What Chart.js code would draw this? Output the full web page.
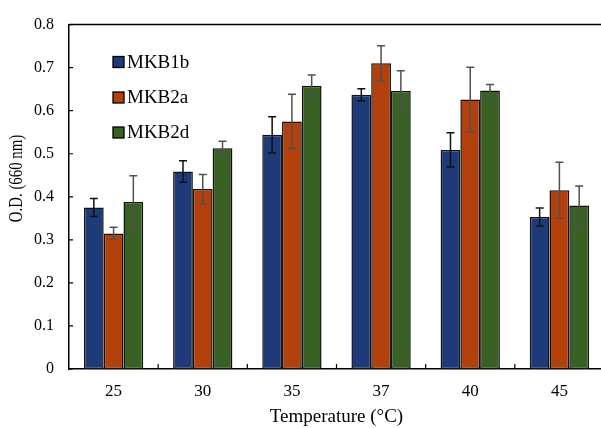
<!DOCTYPE html>
<html>
<head>
<meta charset="utf-8">
<script src="https://cdn.jsdelivr.net/npm/chart.js@4.4.1/dist/chart.umd.min.js"></script>
<style>
html,body{margin:0;padding:0;overflow:hidden;background:#fff;}
canvas{display:block;}
</style>
</head>
<body>
<canvas id="c" width="605" height="428"></canvas>
<script>
const categories = ['25', '30', '35', '37', '40', '45'];
const seriesNames = ['MKB1b', 'MKB2a', 'MKB2d'];
const mkb1b = [0.375, 0.459, 0.544, 0.637, 0.509, 0.353];
const mkb2a = [0.315, 0.418, 0.575, 0.710, 0.626, 0.415];
const mkb2d = [0.388, 0.513, 0.658, 0.646, 0.647, 0.380];
const mkb1bErr = [0.021, 0.025, 0.042, 0.014, 0.040, 0.021];
const mkb2aErr = [0.014, 0.034, 0.063, 0.041, 0.075, 0.065];
const mkb2dErr = [0.061, 0.016, 0.025, 0.047, 0.014, 0.045];
const yTicks = [0, 0.1, 0.2, 0.3, 0.4, 0.5, 0.6, 0.7, 0.8];

const colors = ['#1f3a78', '#b4400c', '#3a6124'];
const errColors = ['#111111', '#505050', '#505050'];
const errs = [mkb1bErr, mkb2aErr, mkb2dErr];
const FONT = "'Liberation Serif', 'Times New Roman', serif";

const decor = {
  id: 'decor',
  afterDatasetsDraw(chart) {
    const ctx = chart.ctx;
    const ca = chart.chartArea;
    const xs = chart.scales.x, ys = chart.scales.y;
    ctx.save();
    // error bars
    chart.data.datasets.forEach((ds, di) => {
      const meta = chart.getDatasetMeta(di);
      meta.data.forEach((bar, i) => {
        const v = ds.data[i], e = errs[di][i];
        const x = bar.x;
        const yt = ys.getPixelForValue(v + e), yb = ys.getPixelForValue(v - e);
        ctx.strokeStyle = errColors[di];
        ctx.lineWidth = 1.5;
        ctx.beginPath();
        ctx.moveTo(x, yt); ctx.lineTo(x, yb);
        ctx.moveTo(x - 4, yt); ctx.lineTo(x + 4, yt);
        ctx.moveTo(x - 4, yb); ctx.lineTo(x + 4, yb);
        ctx.stroke();
      });
    });
    // top line
    ctx.strokeStyle = '#000';
    ctx.lineWidth = 1.5;
    ctx.beginPath();
    ctx.moveTo(ca.left, ys.getPixelForValue(0.8));
    ctx.lineTo(chart.width, ys.getPixelForValue(0.8));
    ctx.stroke();
    // y ticks inward
    ctx.lineWidth = 1.2;
    ctx.beginPath();
    yTicks.forEach(t => {
      const y = ys.getPixelForValue(t);
      ctx.moveTo(ca.left, y); ctx.lineTo(ca.left + 4, y);
    });
    // x ticks between categories, inward
    for (let i = 1; i < categories.length; i++) {
      const x = (xs.getPixelForValue(i - 1) + xs.getPixelForValue(i)) / 2;
      ctx.moveTo(x, ca.bottom); ctx.lineTo(x, ca.bottom - 5);
    }
    ctx.stroke();
    // legend
    ctx.font = '19px ' + FONT;
    ctx.textBaseline = 'middle';
    ctx.textAlign = 'left';
    const ly = [62, 97.5, 132.5];
    seriesNames.forEach((n, i) => {
      ctx.fillStyle = colors[i];
      ctx.fillRect(113, ly[i] - 5.5, 11, 11);
      ctx.strokeStyle = '#000';
      ctx.lineWidth = 1.3;
      ctx.strokeRect(113, ly[i] - 5.5, 11, 11);
      ctx.fillStyle = '#000';
      ctx.fillText(n, 127, ly[i] + 1);
    });
    // axis titles
    ctx.font = '19px ' + FONT;
    ctx.textAlign = 'center';
    ctx.fillText('Temperature (°C)', (ca.left + ca.right) / 2, 417);
    ctx.save();
    ctx.translate(17, 178.5);
    ctx.rotate(-Math.PI / 2);
    ctx.scale(0.78, 1);
    ctx.font = '19px ' + FONT;
    ctx.fillText('O.D. (660 nm)', 0, 0);
    ctx.restore();
    ctx.restore();
  }
};

new Chart(document.getElementById('c'), {
  type: 'bar',
  data: {
    labels: categories,
    datasets: [
      { label: seriesNames[0], data: mkb1b, backgroundColor: colors[0] },
      { label: seriesNames[1], data: mkb2a, backgroundColor: colors[1] },
      { label: seriesNames[2], data: mkb2d, backgroundColor: colors[2] }
    ].map(d => Object.assign(d, { borderColor: '#111', borderWidth: 1.5, borderSkipped: false, categoryPercentage: 0.665, barPercentage: 1 }))
  },
  options: {
    responsive: false,
    animation: false,
    layout: { padding: { top: 16, right: 1, left: 0, bottom: 0 } },
    plugins: { legend: { display: false }, tooltip: { enabled: false } },
    scales: {
      x: {
        grid: { display: false, drawTicks: false },
        border: { display: true, color: '#000', width: 1.5 },
        ticks: { color: '#000', font: { family: FONT, size: 17 }, padding: 12 },
        afterFit(s) { s.height = 59; }
      },
      y: {
        min: 0, max: 0.8,
        grid: { display: false, drawTicks: false },
        border: { display: true, color: '#000', width: 1.5 },
        ticks: {
          stepSize: 0.1, color: '#000', font: { family: FONT, size: 16 }, padding: 15,
          callback: v => (Math.abs(v) < 1e-9 ? '0' : v.toFixed(1))
        },
        afterFit(s) { s.width = 69; }
      }
    }
  },
  plugins: [decor]
});
</script>
</body>
</html>
